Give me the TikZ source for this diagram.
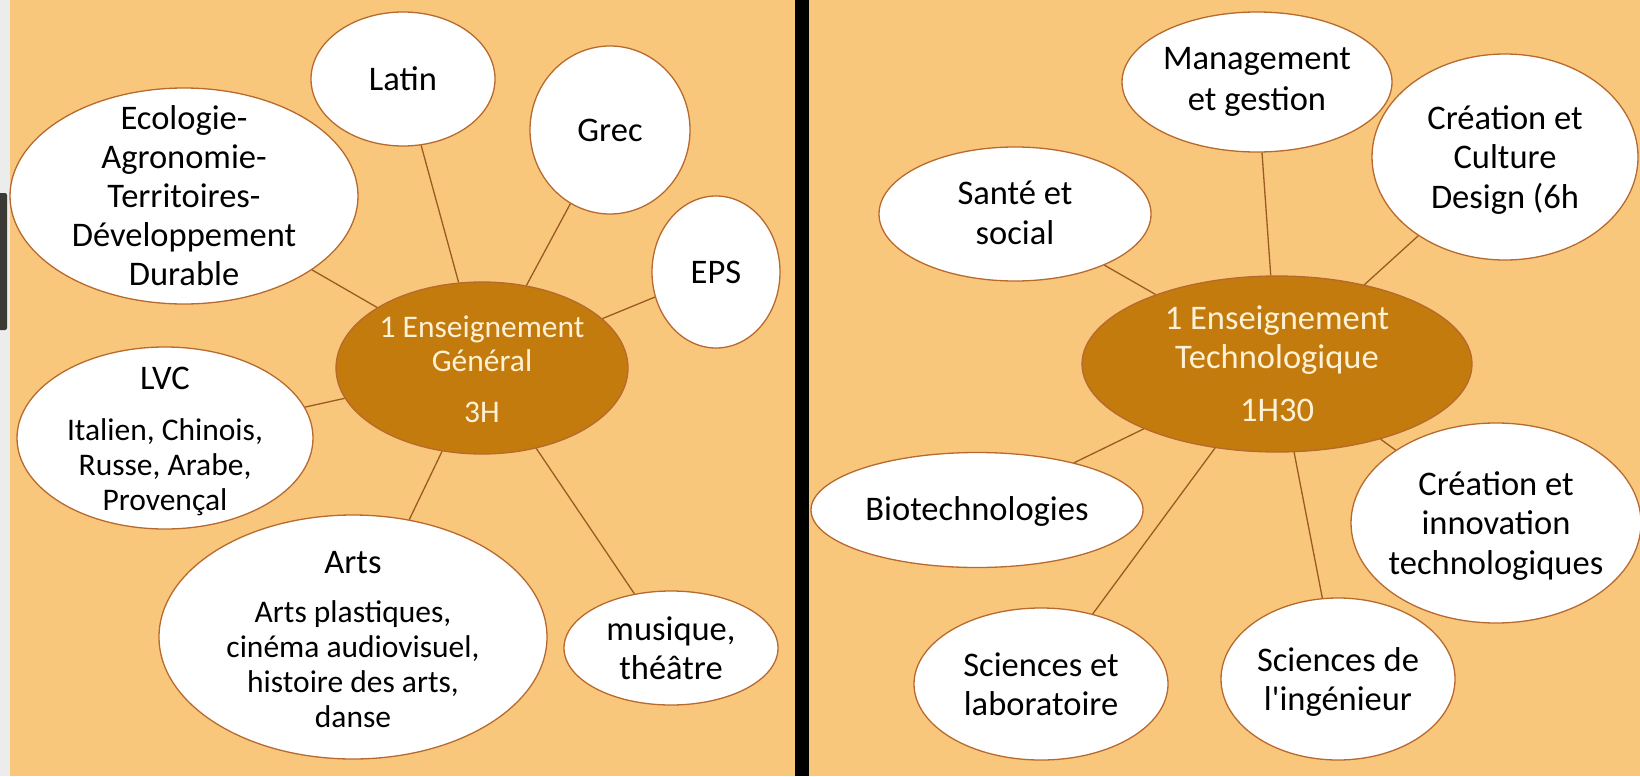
\documentclass[tikz,border=0pt]{standalone}
\usepackage{fontspec}
\setmainfont{Carlito}
\usetikzlibrary{shapes.geometric}
\definecolor{bg}{HTML}{F9C77C}
\definecolor{hub}{HTML}{C27B0C}
\definecolor{rim}{HTML}{B8692E}
\definecolor{linkc}{HTML}{9A5A22}
\definecolor{hubtxt}{HTML}{FFF1D6}
\definecolor{strip}{HTML}{ECECEC}
\definecolor{handle}{HTML}{3B3A35}
\begin{document}
\begin{tikzpicture}[x=1pt,y=-1pt,
  leaf/.style 2 args={ellipse, draw=rim, line width=1.3pt, fill=white, inner sep=0pt, minimum width=#1pt, minimum height=#2pt},
  hubnode/.style 2 args={ellipse, draw=rim, line width=1.3pt, fill=hub, inner sep=0pt, minimum width=#1pt, minimum height=#2pt},
  txt/.style={align=center, font=\fontsize{34.5}{39.5}\selectfont, text=black, inner sep=0pt},
  subtxt/.style={align=center, font=\fontsize{31.5}{35}\selectfont, text=black, inner sep=0pt},
  hubtext/.style={align=center, text=hubtxt, inner sep=0pt},
  conn/.style={draw=linkc, line width=1.3pt}
]
\useasboundingbox (0,0) rectangle (1640,776);
% backgrounds
\fill[bg] (0,0) rectangle (1640,776);
\fill[strip] (0,0) rectangle (10,776);
\fill[handle, rounded corners=2pt] (-4,193) rectangle (7,330);
\fill[black] (795,0) rectangle (809,776);

% ---------- left panel ----------
\node[hubnode={292}{172}] (cg) at (482,368) {};
\node[leaf={184}{134}] (latin) at (403,79) {};
\node[leaf={160}{168}] (grec) at (610,130) {};
\node[leaf={128}{152}] (eps) at (716,272) {};
\node[leaf={348}{216}] (eco) at (184,196) {};
\node[leaf={296}{182}] (lvc) at (165,438) {};
\node[leaf={388}{244}] (arts) at (353,637) {};
\node[leaf={214}{114}] (mus) at (671,648) {};

\foreach \n in {latin,grec,eps,eco,lvc,arts,mus} \draw[conn] (cg) -- (\n);

\node[hubtext, font=\fontsize{31.5}{34}\selectfont] (cgT) at (482,369) {1 Enseignement\\Général\\[17pt]3H};
\node[txt] (latinT) at (403,79) {Latin};
\node[txt] (grecT) at (610,130) {Grec};
\node[txt] (epsT) at (716,272) {EPS};
\node[txt, font=\fontsize{34.5}{39}\selectfont] (ecoT) at (184,196) {Ecologie-\\Agronomie-\\Territoires-\\Développement\\Durable};
\node[subtxt] (lvcT) at (165,441) {{\fontsize{34.5}{39}\selectfont LVC}\\[16pt]Italien, Chinois,\\Russe, Arabe,\\Provençal};
\node[subtxt] (artsT) at (353,640) {{\fontsize{34.5}{39}\selectfont Arts}\\[14pt]Arts plastiques,\\cinéma audiovisuel,\\histoire des arts,\\danse};
\node[txt] (musT) at (671,648) {musique,\\théâtre};

% ---------- right panel ----------
\node[hubnode={390}{176}] (ct) at (1277,364) {};
\node[leaf={270}{140}] (mgmt) at (1257,82) {};
\node[leaf={266}{206}] (ccd) at (1505,157) {};
\node[leaf={272}{134}] (sante) at (1015,214) {};
\node[leaf={332}{115}] (bio) at (977,510) {};
\node[leaf={290}{200}] (cit) at (1496,523) {};
\node[leaf={254}{152}] (scl) at (1041,684) {};
\node[leaf={234}{162}] (sci) at (1338,679) {};

\foreach \n in {mgmt,ccd,sante,bio,cit,scl,sci} \draw[conn] (ct) -- (\n);

\node[hubtext, font=\fontsize{34.5}{39}\selectfont] (ctT) at (1277,364) {1 Enseignement\\Technologique\\[14pt]1H30};
\node[txt, font=\fontsize{34.5}{41}\selectfont] (mgmtT) at (1257,82) {Management\\et gestion};
\node[txt] (ccdT) at (1505,160) {Création et\\Culture\\Design (6h};
\node[txt] (santeT) at (1015,213) {Santé et\\social};
\node[txt] (bioT) at (977,511) {Biotechnologies};
\node[txt] (citT) at (1496,526) {Création et\\innovation\\technologiques};
\node[txt] (sclT) at (1041,684) {Sciences et\\laboratoire};
\node[txt] (sciT) at (1338,682) {Sciences de\\l\textquotesingle ingénieur};
\end{tikzpicture}
\end{document}
